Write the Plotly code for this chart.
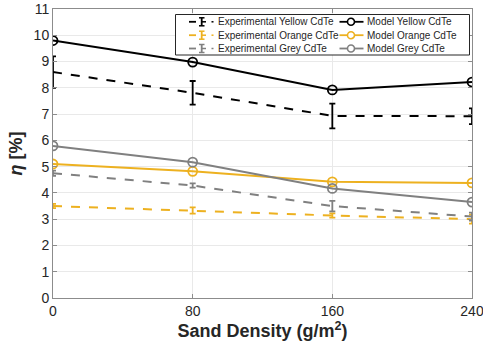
import plotly.graph_objects as go

density = [0, 80, 160, 240]
tick_vals = [0, 80, 160, 240]

exp_yellow = [8.6, 7.81, 6.93, 6.92]
exp_yellow_err = [0.6, 0.45, 0.47, 0.3]
exp_orange = [3.5, 3.33, 3.14, 3.0]
exp_orange_err = [0.08, 0.12, 0.08, 0.17]
exp_grey = [4.75, 4.28, 3.5, 3.1]
exp_grey_err = [0.1, 0.08, 0.2, 0.15]

model_yellow = [9.8, 8.98, 7.92, 8.22]
model_orange = [5.1, 4.82, 4.42, 4.38]
model_grey = [5.79, 5.17, 4.17, 3.65]

exp_names = ["Experimental Yellow CdTe", "Experimental Orange CdTe", "Experimental Grey CdTe"]
model_names = ["Model Yellow CdTe", "Model Orange CdTe", "Model Grey CdTe"]

C_Y = "#000000"
C_O = "#EDB120"
C_G = "#808080"
colors = [C_Y, C_O, C_G]

W, H = 483, 347
ML, MR, MT, MB = 53, 11, 9, 49
PW, PH = W - ML - MR, H - MT - MB

fig = go.Figure()

def exp_trace(name, y, err, color):
    return go.Scatter(x=density, y=y, name=name, mode="lines",
                      line=dict(color=color, width=2, dash="dash"),
                      error_y=dict(type="data", array=err, visible=True,
                                   color=color, thickness=1.8, width=3),
                      showlegend=False)

def model_trace(name, y, color):
    return go.Scatter(x=density, y=y, name=name, mode="lines+markers",
                      line=dict(color=color, width=2),
                      marker=dict(symbol="circle-open", size=9, color=color,
                                  line=dict(width=1.8, color=color)),
                      showlegend=False)

exp_series = [(exp_yellow, exp_yellow_err), (exp_orange, exp_orange_err), (exp_grey, exp_grey_err)]
model_series = [model_yellow, model_orange, model_grey]

for (y, e), n, c in zip(exp_series, exp_names, colors):
    fig.add_trace(exp_trace(n, y, e, c))
for y, n, c in zip(model_series, model_names, colors):
    fig.add_trace(model_trace(n, y, c))

# ---- legend drawn in paper coordinates (MATLAB-style two-column box) ----
def px(x):
    return (x - ML) / PW

def py(y):
    return 1 - (y - MT) / PH

shapes = []
annotations = []
shapes.append(dict(type="rect", xref="paper", yref="paper",
                   x0=px(175.5), x1=px(469.5), y0=py(55), y1=py(14.5),
                   line=dict(color="#262626", width=1), fillcolor="white", layer="above"))
rows = [21.8, 35.2, 48.5]
for r, n, c in zip(rows, exp_names, colors):
    shapes.append(dict(type="line", xref="paper", yref="paper",
                       x0=px(189), x1=px(196), y0=py(r), y1=py(r),
                       line=dict(color=c, width=1.8), layer="above"))
    shapes.append(dict(type="line", xref="paper", yref="paper",
                       x0=px(201.7), x1=px(201.7), y0=py(r - 4), y1=py(r + 4),
                       line=dict(color=c, width=1.8), layer="above"))
    for yy in (r - 4, r + 4):
        shapes.append(dict(type="line", xref="paper", yref="paper",
                           x0=px(199), x1=px(204.5), y0=py(yy), y1=py(yy),
                           line=dict(color=c, width=1.5), layer="above"))
    shapes.append(dict(type="line", xref="paper", yref="paper",
                       x0=px(201.7), x1=px(206), y0=py(r), y1=py(r),
                       line=dict(color=c, width=1.5), layer="above"))
    shapes.append(dict(type="line", xref="paper", yref="paper",
                       x0=px(211.5), x1=px(213.5), y0=py(r), y1=py(r),
                       line=dict(color=c, width=1.5), layer="above"))
    annotations.append(dict(xref="paper", yref="paper", x=px(215.5), y=py(r),
                            xanchor="left", yanchor="middle", showarrow=False,
                            text=n, font=dict(family="Liberation Sans, Arial", size=10, color="#262626")))
for r, n, c in zip(rows, model_names, colors):
    shapes.append(dict(type="line", xref="paper", yref="paper",
                       x0=px(339.5), x1=px(363.5), y0=py(r), y1=py(r),
                       line=dict(color=c, width=1.8), layer="above"))
    shapes.append(dict(type="circle", xref="paper", yref="paper",
                       x0=px(347.5), x1=px(354.5), y0=py(r - 3.5), y1=py(r + 3.5),
                       line=dict(color=c, width=1.6), fillcolor="white", layer="above"))
    annotations.append(dict(xref="paper", yref="paper", x=px(365), y=py(r),
                            xanchor="left", yanchor="middle", showarrow=False,
                            text=n, font=dict(family="Liberation Sans, Arial", size=10, color="#262626")))

axis_common = dict(showline=True, linecolor="#8c8c8c", linewidth=1, mirror="ticks",
                   showgrid=True, gridcolor="#e9e9e9", gridwidth=1,
                   ticks="inside", ticklen=4, tickcolor="#8c8c8c",
                   tickfont=dict(family="Liberation Sans, Arial", size=14, color="#262626"),
                   zeroline=False, ticklabeloverflow="allow", automargin=False)

fig.update_layout(
    width=W, height=H,
    margin=dict(l=ML, r=MR, t=MT, b=MB, autoexpand=False),
    paper_bgcolor="white", plot_bgcolor="white",
    showlegend=False,
    shapes=shapes,
    annotations=annotations,
    xaxis=dict(range=[0, 240], tickvals=tick_vals,
               title=dict(text="<b>Sand Density (g/m<sup>2</sup>)</b>",
                          font=dict(family="Liberation Sans, Arial", size=18, color="#262626"),
                          standoff=2),
               **axis_common),
    yaxis=dict(range=[0, 11], dtick=1,
               title=dict(text="<b><i>η</i> [%]</b>",
                          font=dict(family="Liberation Sans, Arial", size=18, color="#262626"),
                          standoff=6),
               **axis_common),
)

fig.write_html("out.html")
